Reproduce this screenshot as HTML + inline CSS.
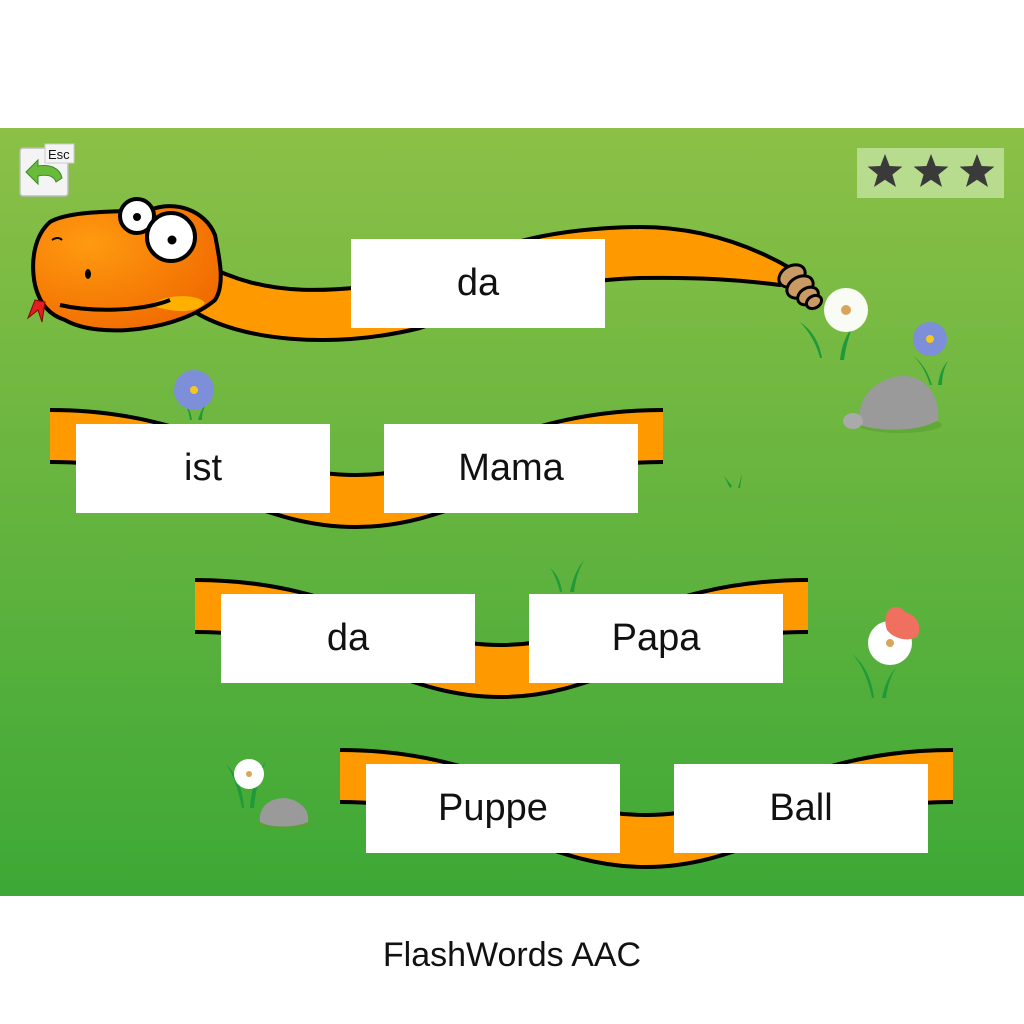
<!DOCTYPE html>
<html><head><meta charset="utf-8"><style>
html,body{margin:0;padding:0;width:1024px;height:1024px;background:#fff;overflow:hidden;font-family:"Liberation Sans",sans-serif}
.card{position:absolute;width:254px;height:89px;background:#fff;display:flex;align-items:center;justify-content:center;font-size:38px;color:#111}
</style></head><body>
<svg width="1024" height="1024" style="position:absolute;left:0;top:0">
<defs>
<linearGradient id="bg" x1="0" y1="0" x2="0" y2="1"><stop offset="0" stop-color="#8cc047"/><stop offset="1" stop-color="#3da836"/></linearGradient>
<radialGradient id="head" cx="0.3" cy="0.3" r="0.8"><stop offset="0" stop-color="#ff9a10"/><stop offset="1" stop-color="#f06a00"/></radialGradient>
<g id="rib">
<path d="M0,0 C150,0 200,65 306,65 C410,65 460,0 613,0 L613,52 C460,52 410,117 306,117 C200,117 150,52 0,52 Z" fill="#ff9900"/>
<path d="M0,0 C150,0 200,65 306,65 C410,65 460,0 613,0 M0,52 C150,52 200,117 306,117 C410,117 460,52 613,52" fill="none" stroke="#000" stroke-width="4"/>
</g>
</defs>
<rect x="0" y="128" width="1024" height="768" fill="url(#bg)"/>
<rect x="20" y="148" width="48" height="48" rx="3" fill="#f4f4f4" stroke="#bbb" stroke-width="1.5"/>
<path d="M26,172 L38,160 L38,166 C50,164 60,168 62,178 L56,182 C54,176 48,174 38,176 L38,184 Z" fill="#6bbb3a" stroke="#3a8a2a" stroke-width="1"/>
<rect x="45" y="144" width="29" height="19" fill="#f4f4f4" stroke="#ccc"/>
<text x="48" y="159" font-size="13" font-family="Liberation Sans" fill="#111">Esc</text>
<rect x="857" y="148" width="147" height="50" fill="#b8dc8e"/>
<g fill="#3a3a3a">
<path id="st" d="M885,154 l4.6,12 12.8,0.6 -10,8 3.6,12.4 -11,-7.2 -11,7.2 3.6,-12.4 -10,-8 12.8,-0.6z"/>
<use href="#st" x="46"/><use href="#st" x="92"/>
</g>
<path d="M200,262 C270,300 330,292 420,280 C500,240 560,228 640,227 C700,227 750,245 790,268 L780,285 C740,280 700,277 640,278 C560,280 500,300 420,328 C330,350 240,340 195,312 Z" fill="#ff9900" stroke="#000" stroke-width="4" stroke-linejoin="round"/>
<g fill="#c99a63" stroke="#000" stroke-width="3">
<ellipse cx="792" cy="276" rx="14" ry="10" transform="rotate(-30 792 276)"/>
<ellipse cx="800" cy="287" rx="14" ry="10" transform="rotate(-30 800 287)"/>
<ellipse cx="808" cy="296" rx="11" ry="8" transform="rotate(-30 808 296)"/>
<ellipse cx="814" cy="302" rx="8" ry="6" transform="rotate(-30 814 302)"/>
</g>
<path d="M65,320 C100,340 180,330 215,300 C225,285 220,260 215,235 C205,210 175,200 150,210 C120,212 70,210 50,222 C35,235 30,260 35,285 C40,305 50,315 65,320 Z" fill="url(#head)" stroke="#000" stroke-width="4"/>
<path d="M150,305 C170,292 200,295 205,303 C195,315 170,312 150,305Z" fill="#ffb000"/>
<path d="M60,305 C90,312 140,312 170,300" fill="none" stroke="#000" stroke-width="4"/>
<path d="M35,300 L28,318 L38,310 L42,322 L45,302Z" fill="#e02020" stroke="#800" stroke-width="1"/>
<circle cx="137" cy="216" r="17" fill="#fff" stroke="#000" stroke-width="4"/>
<circle cx="137" cy="217" r="4" fill="#000"/>
<circle cx="171" cy="237" r="24" fill="#fff" stroke="#000" stroke-width="4"/>
<circle cx="172" cy="240" r="4.5" fill="#000"/>
<ellipse cx="88" cy="274" rx="3" ry="5" fill="#000"/>
<path d="M52,240 q6,-4 10,0" fill="none" stroke="#000" stroke-width="2"/>
<use href="#rib" x="50" y="410"/>
<use href="#rib" x="195" y="580"/>
<use href="#rib" x="340" y="750"/>
<g fill="#1e9a3a">
<path d="M820,358 q-5,-20 -20,-36 q18,12 22,36z"/><path d="M840,360 q2,-20 12,-32 q-6,16 -8,32z"/>
<path d="M242,808 q-6,-30 -16,-44 q16,16 18,44z"/><path d="M250,808 q2,-30 16,-46 q-10,20 -12,46z"/>
<path d="M872,698 q-6,-30 -20,-44 q18,14 22,44z"/><path d="M882,698 q4,-20 14,-30 q-8,12 -10,30z"/>
<path d="M560,592 q-4,-16 -10,-24 q10,8 12,24z"/><path d="M570,592 q4,-20 14,-32 q-8,14 -10,32z"/>
<path d="M930,385 q-6,-20 -18,-30 q14,10 20,30z"/><path d="M938,385 q2,-16 10,-24 q-6,10 -6,24z"/>
<path d="M190,420 q-2,-14 -8,-20 q8,6 10,20z"/><path d="M198,420 q4,-14 12,-22 q-8,10 -8,22z"/>
<path d="M730,488 l-6,-12 8,10z M738,488 l4,-14 -2,14z"/>
</g>
<g>
<circle cx="846" cy="310" r="22" fill="#fff" opacity="0.95"/><circle cx="846" cy="310" r="5" fill="#d9a55a"/>
<circle cx="930" cy="339" r="17" fill="#7d8fd8"/><circle cx="930" cy="339" r="4" fill="#f3c623"/>
<circle cx="194" cy="390" r="20" fill="#7d8fd8"/><circle cx="194" cy="390" r="4" fill="#f3c623"/>
<circle cx="249" cy="774" r="15" fill="#fff"/><circle cx="249" cy="774" r="3" fill="#d9a55a"/>
<circle cx="890" cy="643" r="22" fill="#fff"/><circle cx="890" cy="643" r="4" fill="#d9a55a"/>
<path d="M887,630 C880,610 896,600 905,612 C915,615 922,622 918,636 C910,642 895,640 887,630Z" fill="#f07060"/>
</g>
<ellipse cx="900" cy="425" rx="42" ry="8" fill="#5aa030" opacity="0.6"/>
<path d="M860,425 C855,395 880,376 905,376 C930,378 940,400 938,420 C920,432 880,432 860,425Z" fill="#9a9a9a"/>
<ellipse cx="853" cy="421" rx="10" ry="8" fill="#aaa"/>
<ellipse cx="285" cy="824" rx="27" ry="5" fill="#5aa030" opacity="0.6"/>
<path d="M260,822 C258,805 272,798 285,798 C300,800 310,810 308,822 C295,828 270,828 260,822Z" fill="#9a9a9a"/>
<text x="512" y="966" text-anchor="middle" font-size="34" fill="#111" font-family="Liberation Sans">FlashWords AAC</text>
</svg>
<div class="card" style="left:351px;top:239px">da</div>
<div class="card" style="left:76px;top:424px">ist</div>
<div class="card" style="left:384px;top:424px">Mama</div>
<div class="card" style="left:221px;top:594px">da</div>
<div class="card" style="left:529px;top:594px">Papa</div>
<div class="card" style="left:366px;top:764px">Puppe</div>
<div class="card" style="left:674px;top:764px">Ball</div>
</body></html>
